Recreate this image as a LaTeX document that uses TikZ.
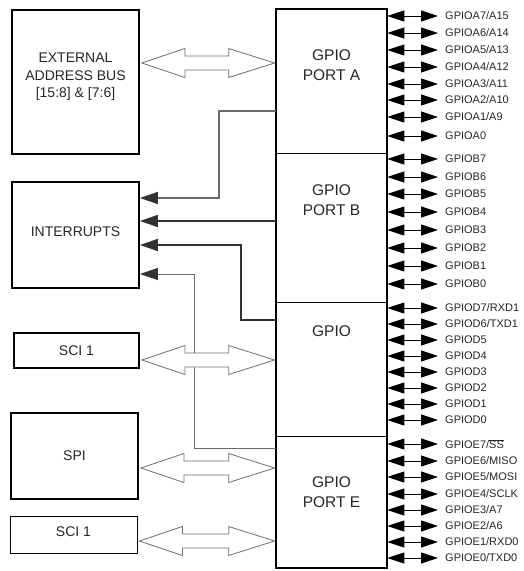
\documentclass[tikz,border=0pt]{standalone}
\usepackage{fontspec}
\setmainfont{Liberation Sans}
\usetikzlibrary{arrows.meta,calc}
\definecolor{irq_dark}{RGB}{50,50,50}
\definecolor{irq_gray}{RGB}{105,105,105}
\definecolor{bus_gray}{RGB}{110,110,110}

\tikzset{
  blockbox/.style={draw, line width=1.8pt, minimum width=127pt, inner sep=0pt, align=center, font=\fontsize{14}{17.5}\selectfont, text=black!85},
  portbox/.style={draw, line width=0.7pt, minimum width=111pt, inner sep=0pt},
  porttxt/.style={align=center, font=\fontsize{15.5}{20}\selectfont, text=black!85},
  pinlbl/.style={anchor=west, inner sep=0pt, font=\fontsize{11}{13}\selectfont, text=black!85},
  pinarrow/.style={line width=0.8pt, {Triangle[length=17pt,width=11pt]}-{Triangle[length=17pt,width=11pt]}},
  busline/.style={draw=bus_gray, fill=white, line width=0.8pt, line join=miter},
  irqline/.style={-{Triangle[length=18pt,width=12pt,color=irq_dark]}}
}

% hollow double bus arrow between two boxes at height #3
\newcommand{\busarrow}[3]{%
  \draw[busline] let \p1=($(#1.east |- 0,#3)+(2pt,0pt)$), \p2=($(#2.west |- 0,#3)+(-1pt,0pt)$) in
    (\p1) -- (\x1+43pt,\y1+14.5pt) -- (\x1+43pt,\y1+7pt) -- (\x2-46pt,\y1+7pt)
    -- (\x2-46pt,\y1+14.5pt) -- (\p2) -- (\x2-46pt,\y1-14.5pt) -- (\x2-46pt,\y1-7pt)
    -- (\x1+43pt,\y1-7pt) -- (\x1+43pt,\y1-14.5pt) -- cycle;
}

\begin{document}
\begin{tikzpicture}[x=1pt, y=-1pt]

    \useasboundingbox (0,0) rectangle (523,571);

    % Left blocks
    \node[blockbox, minimum height=144pt, text depth=13.5pt] (extbus) at (75.5,82) {EXTERNAL\\ADDRESS BUS\\{[15:8] \& [7:6]}};
    \node[blockbox, minimum height=106pt, text depth=6pt] (irq) at (75.5,235) {INTERRUPTS};
    \node[blockbox, minimum width=125pt, minimum height=35pt] (sci) at (76.5,350.5) {SCI 1};
    \node[blockbox, minimum height=86pt] (spi) at (74.5,456) {SPI};
    \node[blockbox, line width=0.8pt, minimum height=37pt, text depth=5pt] (scib) at (73.5,534.5) {SCI 1};

    % GPIO column
    \node[portbox, minimum height=144pt] (porta) at (331.5,81) {};
    \node[portbox, minimum height=149pt] (portb) at (331.5,227.5) {};
    \node[portbox, minimum height=134pt] (portd) at (331.5,369) {};
    \node[portbox, minimum height=132pt] (porte) at (331.5,502) {};
    \draw[line width=2.2pt] (porta.north west) rectangle (porte.south east);

    \node[porttxt] (porta-txt) at (331.5,65) {GPIO\\PORT A};
    \node[porttxt] (portb-txt) at (331.5,200) {GPIO\\PORT B};
    \node[porttxt] (portd-txt) at (331.5,331) {GPIO};
    \node[porttxt] (porte-txt) at (331.5,492) {GPIO\\PORT E};

    % Interrupt lines
    \draw[irqline, draw=irq_gray, line width=1.3pt] (porta.west |- 0,111) -- (219,111) |- (irq.east |- 0,198);
    \draw[irqline, draw=irq_dark, line width=1.6pt] (portb.west |- 0,221) -- (irq.east |- 0,221);
    \draw[irqline, draw=irq_dark, line width=1.8pt] (portd.west |- 0,320) -- (241,320) |- (irq.east |- 0,245);
    \draw[irqline, draw=irq_gray, line width=1pt] (porte.west |- 0,448) -- (194,448) |- (irq.east |- 0,274);

    % Bus arrows
    \busarrow{extbus}{porta}{63}
    \busarrow{sci}{portd}{360}
    \busarrow{spi}{porte}{468}
    \busarrow{scib}{porte}{541}

    % Port A pins
    \foreach \y/\txt/\nm in {16/{GPIOA7/A15}/a7, 33/{GPIOA6/A14}/a6, 50/{GPIOA5/A13}/a5, 67/{GPIOA4/A12}/a4,
                             84/{GPIOA3/A11}/a3, 100/{GPIOA2/A10}/a2, 117/{GPIOA1/A9}/a1, 136/{GPIOA0}/a0} {
      \node[pinlbl] (\nm) at (445,\y) {\txt};
      \draw[pinarrow] (porta.east |- \nm.west) -- ([xshift=-7pt]\nm.west);
    }

    % Port B pins
    \foreach \y/\txt/\nm in {159/GPIOB7/b7, 177/GPIOB6/b6, 194/GPIOB5/b5, 212/GPIOB4/b4,
                             230/GPIOB3/b3, 248/GPIOB2/b2, 266/GPIOB1/b1, 284/GPIOB0/b0} {
      \node[pinlbl] (\nm) at (445,\y) {\txt};
      \draw[pinarrow] (portb.east |- \nm.west) -- ([xshift=-7pt]\nm.west);
    }

    % Port D pins
    \foreach \y/\txt/\nm in {308/{GPIOD7/RXD1}/d7, 324/{GPIOD6/TXD1}/d6, 340/GPIOD5/d5, 356/GPIOD4/d4,
                             372/GPIOD3/d3, 388/GPIOD2/d2, 404/GPIOD1/d1, 420/GPIOD0/d0} {
      \node[pinlbl] (\nm) at (445,\y) {\txt};
      \draw[pinarrow] (portd.east |- \nm.west) -- ([xshift=-7pt]\nm.west);
    }

    % Port E pins
    \foreach \y/\txt/\nm in {444/{GPIOE7/$\overline{\mbox{SS}}$}/e7, 461/{GPIOE6/MISO}/e6, 477/{GPIOE5/MOSI}/e5,
                             494/{GPIOE4/SCLK}/e4, 510/{GPIOE3/A7}/e3, 526/{GPIOE2/A6}/e2,
                             542/{GPIOE1/RXD0}/e1, 558/{GPIOE0/TXD0}/e0} {
      \node[pinlbl] (\nm) at (445,\y) {\txt};
      \draw[pinarrow] (porte.east |- \nm.west) -- ([xshift=-7pt]\nm.west);
    }

\end{tikzpicture}
\end{document}
